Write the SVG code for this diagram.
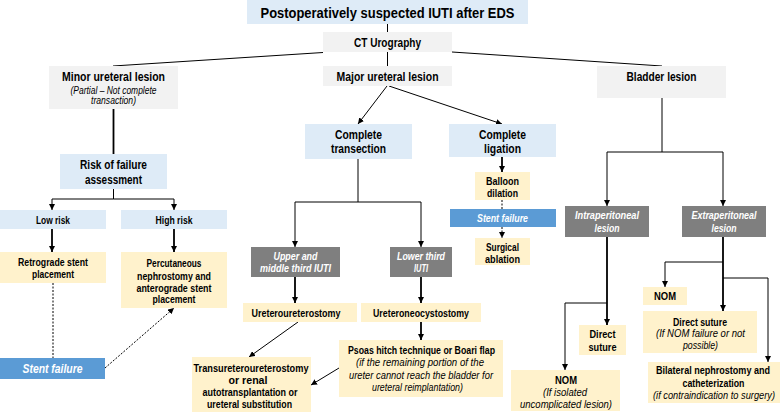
<svg xmlns="http://www.w3.org/2000/svg" width="784" height="413" viewBox="0 0 784 413">
<defs>
<marker id="ah" viewBox="0 0 10 10" refX="10" refY="5" markerWidth="6" markerHeight="6" markerUnits="userSpaceOnUse" orient="auto">
<path d="M0,0 L10,5 L0,10 z" fill="#000"/>
</marker>
</defs>
<style>
text{font-family:"Liberation Sans",Arial,sans-serif;text-anchor:middle;fill:#000;}
.b{font-weight:bold;}
.i{font-style:italic;}
.w{fill:#fff;}
.s15{font-size:15.5px;}
.s12{font-size:12px;}
.s11{font-size:11px;}
.s10{font-size:10.5px;}
.s9{font-size:10px;}
.gray{fill:#f2f2f2;}
.lb{fill:#deebf7;}
.cr{fill:#fff2cc;}
.dg{fill:#7f7f7f;}
.bl{fill:#5b9bd5;}
.c{fill:none;stroke:#000;stroke-width:1;}
.t{stroke-width:1.8;}
.d{stroke-dasharray:2,1.5;}
.a{marker-end:url(#ah);}
</style>
<g id="connectors">
<line class="c" x1="387.5" y1="24" x2="387.5" y2="32"/>
<line class="c" x1="323" y1="52.5" x2="113" y2="66"/>
<line class="c" x1="387.5" y1="52" x2="387.5" y2="66"/>
<line class="c" x1="452" y1="52" x2="662" y2="66"/>
<line class="c a" x1="387" y1="86" x2="358" y2="124"/>
<line class="c a" x1="389" y1="86" x2="502" y2="124"/>
<line class="c t" x1="113.5" y1="109" x2="113.5" y2="154"/>
<line class="c" x1="113.5" y1="189" x2="113.5" y2="199"/>
<path class="c a" d="M113.5,199 H52 V210"/>
<path class="c a" d="M113.5,199 H174 V210"/>
<line class="c t a" x1="52" y1="229" x2="52" y2="252"/>
<line class="c t a" x1="174" y1="229" x2="174" y2="252"/>
<line class="c d" x1="53" y1="283" x2="53" y2="358"/>
<line class="c d a" x1="105" y1="368" x2="174" y2="308"/>
<line class="c" x1="358" y1="159" x2="358" y2="202"/>
<path class="c a" d="M358,202 H295 V247"/>
<path class="c a" d="M358,202 H421 V247"/>
<line class="c t a" x1="295" y1="277" x2="295" y2="303"/>
<line class="c t a" x1="421" y1="277" x2="421" y2="303"/>
<line class="c t a" x1="421" y1="322" x2="421" y2="340"/>
<line class="c a" x1="298" y1="322" x2="249" y2="357"/>
<line class="c a" x1="339" y1="368" x2="311" y2="385"/>
<line class="c t a" x1="502" y1="157" x2="502" y2="172"/>
<line class="c d" x1="502" y1="200" x2="502" y2="209"/>
<line class="c d a" x1="502" y1="227" x2="502" y2="238"/>
<line class="c" x1="662" y1="98" x2="662" y2="152"/>
<path class="c a" d="M662,152 H607 V206"/>
<path class="c a" d="M662,152 H723 V206"/>
<line class="c t a" x1="607" y1="237" x2="607" y2="325"/>
<path class="c a" d="M607,303 H565 V370"/>
<line class="c t a" x1="723" y1="237" x2="723" y2="311"/>
<path class="c a" d="M723,262 H665 V287"/>
<path class="c a" d="M723,278 H768 V362"/>
</g>
<g id="title"><rect class="lb" x="247" y="0" width="281" height="24"/>
<text class="b s15" x="387.5" y="18" textLength="254" lengthAdjust="spacingAndGlyphs">Postoperatively suspected IUTI after EDS</text></g>
<g id="ct"><rect class="gray" x="323" y="32" width="129" height="20"/>
<text class="b s12" x="387.5" y="46.5" textLength="67" lengthAdjust="spacingAndGlyphs">CT Urography</text></g>
<g id="minor"><rect class="gray" x="49" y="66" width="129" height="43"/>
<text class="b s12" x="113.5" y="81" textLength="103" lengthAdjust="spacingAndGlyphs">Minor ureteral lesion</text>
<text class="i s9" x="113.5" y="93.5" textLength="86" lengthAdjust="spacingAndGlyphs">(Partial – Not complete</text>
<text class="i s9" x="113.5" y="103.5" textLength="45" lengthAdjust="spacingAndGlyphs">transaction)</text></g>
<g id="major"><rect class="gray" x="323" y="66" width="129" height="20"/>
<text class="b s12" x="387.5" y="80.5" textLength="102" lengthAdjust="spacingAndGlyphs">Major ureteral lesion</text></g>
<g id="bladder"><rect class="gray" x="597" y="66" width="129" height="32"/>
<text class="b s12" x="661.5" y="81" textLength="70" lengthAdjust="spacingAndGlyphs">Bladder lesion</text></g>
<g id="risk"><rect class="lb" x="60" y="154" width="107" height="35"/>
<text class="b s12" x="113.5" y="169" textLength="67" lengthAdjust="spacingAndGlyphs">Risk of failure</text>
<text class="b s12" x="113.5" y="184" textLength="57" lengthAdjust="spacingAndGlyphs">assessment</text></g>
<g id="low"><rect class="lb" x="0" y="210" width="106" height="19"/>
<text class="b s11" x="53" y="223.5" textLength="34" lengthAdjust="spacingAndGlyphs">Low risk</text></g>
<g id="high"><rect class="lb" x="121" y="210" width="106" height="19"/>
<text class="b s11" x="174" y="223.5" textLength="37" lengthAdjust="spacingAndGlyphs">High risk</text></g>
<g id="retro"><rect class="cr" x="0" y="252" width="106" height="31"/>
<text class="b s11" x="53" y="266" textLength="70" lengthAdjust="spacingAndGlyphs">Retrograde stent</text>
<text class="b s11" x="53" y="278" textLength="42" lengthAdjust="spacingAndGlyphs">placement</text></g>
<g id="percut"><rect class="cr" x="121" y="252" width="106" height="56"/>
<text class="b s11" x="174" y="267" textLength="55" lengthAdjust="spacingAndGlyphs">Percutaneous</text>
<text class="b s11" x="174" y="280" textLength="74" lengthAdjust="spacingAndGlyphs">nephrostomy and</text>
<text class="b s11" x="174" y="291.5" textLength="75" lengthAdjust="spacingAndGlyphs">anterograde stent</text>
<text class="b s11" x="174" y="303" textLength="43" lengthAdjust="spacingAndGlyphs">placement</text></g>
<g id="stent-failure-left"><rect class="bl" x="0" y="358" width="105" height="21"/>
<text class="b i s12 w" x="52.5" y="372.5" textLength="60" lengthAdjust="spacingAndGlyphs">Stent failure</text></g>
<g id="transection"><rect class="lb" x="305" y="124" width="107" height="35"/>
<text class="b s12" x="358.5" y="139" textLength="47" lengthAdjust="spacingAndGlyphs">Complete</text>
<text class="b s12" x="358.5" y="153" textLength="55" lengthAdjust="spacingAndGlyphs">transection</text></g>
<g id="ligation"><rect class="lb" x="449" y="124" width="107" height="33"/>
<text class="b s12" x="502.5" y="139" textLength="47" lengthAdjust="spacingAndGlyphs">Complete</text>
<text class="b s12" x="502.5" y="152.5" textLength="37" lengthAdjust="spacingAndGlyphs">ligation</text></g>
<g id="balloon"><rect class="cr" x="475" y="172" width="55" height="28"/>
<text class="b s10" x="502.5" y="184.5" textLength="33" lengthAdjust="spacingAndGlyphs">Balloon</text>
<text class="b s10" x="502.5" y="196.5" textLength="31" lengthAdjust="spacingAndGlyphs">dilation</text></g>
<g id="stent-failure-mid"><rect class="bl" x="450" y="209" width="106" height="18"/>
<text class="b i s11 w" x="502.5" y="222" textLength="51" lengthAdjust="spacingAndGlyphs">Stent failure</text></g>
<g id="surgical"><rect class="cr" x="475" y="238" width="55" height="27"/>
<text class="b s10" x="502.5" y="250.5" textLength="33" lengthAdjust="spacingAndGlyphs">Surgical</text>
<text class="b s10" x="502.5" y="262.5" textLength="35" lengthAdjust="spacingAndGlyphs">ablation</text></g>
<g id="upper"><rect class="dg" x="251" y="247" width="89" height="30"/>
<text class="b i s11 w" x="295.5" y="260" textLength="44" lengthAdjust="spacingAndGlyphs">Upper and</text>
<text class="b i s11 w" x="295.5" y="272" textLength="71" lengthAdjust="spacingAndGlyphs">middle third IUTI</text></g>
<g id="lower"><rect class="dg" x="390" y="247" width="62" height="30"/>
<text class="b i s11 w" x="421" y="260" textLength="48" lengthAdjust="spacingAndGlyphs">Lower third</text>
<text class="b i s11 w" x="421" y="272" textLength="14" lengthAdjust="spacingAndGlyphs">IUTI</text></g>
<g id="uu"><rect class="cr" x="243" y="303" width="114" height="19"/>
<text class="b s11" x="296" y="317" textLength="89" lengthAdjust="spacingAndGlyphs">Ureteroureterostomy</text></g>
<g id="unc"><rect class="cr" x="361" y="303" width="120" height="19"/>
<text class="b s11" x="421" y="317" textLength="96" lengthAdjust="spacingAndGlyphs">Ureteroneocystostomy</text></g>
<g id="psoas"><rect class="cr" x="339" y="340" width="164" height="57"/>
<text class="b s11" x="421.5" y="354" textLength="147" lengthAdjust="spacingAndGlyphs">Psoas hitch technique or Boari flap</text>
<text class="i s11" x="420" y="366" textLength="128" lengthAdjust="spacingAndGlyphs">(if the remaining portion of the</text>
<text class="i s11" x="421" y="378.5" textLength="144" lengthAdjust="spacingAndGlyphs">ureter cannot reach the bladder for</text>
<text class="i s11" x="417.5" y="391" textLength="91" lengthAdjust="spacingAndGlyphs">ureteral reimplantation)</text></g>
<g id="trans"><rect class="cr" x="192" y="357" width="119" height="55"/>
<text class="b s11" x="251" y="371.5" textLength="115" lengthAdjust="spacingAndGlyphs">Transureteroureterostomy</text>
<text class="b s11" x="248" y="384" textLength="39" lengthAdjust="spacingAndGlyphs">or renal</text>
<text class="b s11" x="250" y="396" textLength="95" lengthAdjust="spacingAndGlyphs">autotransplantation or</text>
<text class="b s11" x="249.5" y="408" textLength="85" lengthAdjust="spacingAndGlyphs">ureteral substitution</text></g>
<g id="intra"><rect class="dg" x="565" y="206" width="84" height="31"/>
<text class="b i s11 w" x="607" y="219" textLength="64" lengthAdjust="spacingAndGlyphs">Intraperitoneal</text>
<text class="b i s11 w" x="607" y="232" textLength="25" lengthAdjust="spacingAndGlyphs">lesion</text></g>
<g id="extra"><rect class="dg" x="682" y="206" width="84" height="31"/>
<text class="b i s11 w" x="724" y="219" textLength="65" lengthAdjust="spacingAndGlyphs">Extraperitoneal</text>
<text class="b i s11 w" x="724" y="232" textLength="25" lengthAdjust="spacingAndGlyphs">lesion</text></g>
<g id="direct-intra"><rect class="cr" x="579" y="325" width="47" height="30"/>
<text class="b s11" x="602.5" y="338" textLength="26" lengthAdjust="spacingAndGlyphs">Direct</text>
<text class="b s11" x="602.5" y="351" textLength="28" lengthAdjust="spacingAndGlyphs">suture</text></g>
<g id="nom-intra"><rect class="cr" x="511" y="370" width="109" height="41"/>
<text class="b s11" x="566" y="384" textLength="22" lengthAdjust="spacingAndGlyphs">NOM</text>
<text class="i s11" x="565" y="396" textLength="44" lengthAdjust="spacingAndGlyphs">(If isolated</text>
<text class="i s11" x="566" y="407.5" textLength="92" lengthAdjust="spacingAndGlyphs">uncomplicated  lesion)</text></g>
<g id="nom-extra"><rect class="cr" x="643" y="287" width="44" height="18"/>
<text class="b s11" x="665" y="300" textLength="22" lengthAdjust="spacingAndGlyphs">NOM</text></g>
<g id="direct-extra"><rect class="cr" x="643" y="311" width="114" height="42"/>
<text class="b s11" x="700" y="325.5" textLength="54" lengthAdjust="spacingAndGlyphs">Direct suture</text>
<text class="i s11" x="700.5" y="337" textLength="89" lengthAdjust="spacingAndGlyphs">(If NOM failure or not</text>
<text class="i s11" x="700.5" y="348.5" textLength="35" lengthAdjust="spacingAndGlyphs">possible)</text></g>
<g id="bilateral"><rect class="cr" x="648" y="362" width="132" height="41"/>
<text class="b" style="font-size:10px" x="713" y="374" textLength="114" lengthAdjust="spacingAndGlyphs">Bilateral nephrostomy and</text>
<text class="b s11" x="713.5" y="386.5" textLength="62" lengthAdjust="spacingAndGlyphs">catheterization</text>
<text class="i" style="font-size:10px" x="714" y="398.5" textLength="122" lengthAdjust="spacingAndGlyphs">(if contraindication to surgery)</text></g>
</svg>
